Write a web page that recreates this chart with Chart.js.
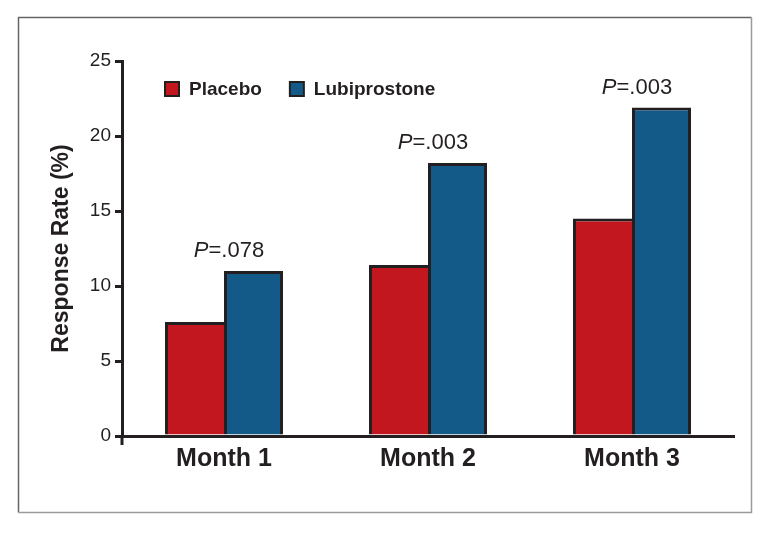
<!DOCTYPE html>
<html lang="en">
<head>
  <meta charset="UTF-8">
  <title>Response Rate by Month</title>
  <script src="https://cdn.jsdelivr.net/npm/chart.js"></script>
  <style>
    html, body { margin: 0; padding: 0; background: #fff; }
    #wrap { width: 774px; height: 534px; }
  </style>
</head>
<body>
<div id="wrap"><canvas id="responseChart" width="774" height="534"></canvas></div>

<script>
const months = ['Month 1', 'Month 2', 'Month 3'];
const placebo = [7.6, 11.4, 14.5];
const lubiprostone = [11.0, 18.2, 21.9];
const pValues = ['.078', '.003', '.003'];
const yTicks = [0, 5, 10, 15, 20, 25];

const INK = '#231f20';
const RED = '#c3171f';
const BLUE = '#135a89';
const FONT = "'Liberation Sans', Arial, sans-serif";

// grey box around the whole figure
const framePlugin = {
  id: 'frame',
  beforeDraw(chart) {
    const ctx = chart.ctx;
    ctx.save();
    ctx.fillStyle = '#fff';
    ctx.fillRect(0, 0, chart.width, chart.height);
    ctx.lineWidth = 1.5;
    ctx.strokeStyle = '#666';
    ctx.beginPath();
    ctx.moveTo(18.5, 512.5); ctx.lineTo(18.5, 17.5); ctx.lineTo(751.5, 17.5);
    ctx.stroke();
    ctx.strokeStyle = '#9a9a9a';
    ctx.beginPath();
    ctx.moveTo(751.5, 17.5); ctx.lineTo(751.5, 512.5); ctx.lineTo(18.5, 512.5);
    ctx.stroke();
    ctx.restore();
  }
};

// legend inside the plot, P values above each pair, y axis stub below x axis
const extrasPlugin = {
  id: 'extras',
  afterDraw(chart) {
    const ctx = chart.ctx;
    const area = chart.chartArea;
    const x = chart.scales.x, y = chart.scales.y;
    ctx.save();

    ctx.strokeStyle = INK;
    ctx.lineWidth = 3;
    ctx.beginPath();
    ctx.moveTo(area.left, area.bottom);
    ctx.lineTo(area.left, area.bottom + 9);
    ctx.stroke();

    // legend
    let lx = area.left + 43;
    const ly = area.top + 28;
    ctx.font = 'bold 19px ' + FONT;
    ctx.textBaseline = 'middle';
    ctx.textAlign = 'left';
    chart.data.datasets.forEach(ds => {
      ctx.fillStyle = ds.backgroundColor;
      ctx.fillRect(lx, ly - 7, 14, 14);
      ctx.strokeStyle = INK;
      ctx.lineWidth = 2;
      ctx.strokeRect(lx, ly - 7, 14, 14);
      ctx.fillStyle = INK;
      ctx.fillText(ds.label, lx + 24, ly + 1);
      lx += 24 + ctx.measureText(ds.label).width + 28;
    });

    // P values
    ctx.textBaseline = 'alphabetic';
    pValues.forEach((p, i) => {
      const cx = x.getPixelForValue(i) + 5;
      const cy = y.getPixelForValue(lubiprostone[i]) - 14;
      ctx.font = 'italic 22px ' + FONT;
      const w1 = ctx.measureText('P').width;
      ctx.font = '22px ' + FONT;
      const w2 = ctx.measureText('=' + p).width;
      let sx = cx - (w1 + w2) / 2;
      ctx.fillStyle = INK;
      ctx.font = 'italic 22px ' + FONT;
      ctx.fillText('P', sx, cy);
      ctx.font = '22px ' + FONT;
      ctx.fillText('=' + p, sx + w1, cy);
    });

    ctx.restore();
  }
};

new Chart(document.getElementById('responseChart'), {
  type: 'bar',
  data: {
    labels: months,
    datasets: [
      { label: 'Placebo', data: placebo, backgroundColor: RED, borderColor: INK,
        borderWidth: { top: 3, left: 3, bottom: 0, right: 0 }, borderSkipped: false, inflateAmount: 0 },
      { label: 'Lubiprostone', data: lubiprostone, backgroundColor: BLUE, borderColor: INK,
        borderWidth: { top: 3, left: 3, bottom: 0, right: 3 }, borderSkipped: false, inflateAmount: 0 }
    ]
  },
  options: {
    responsive: false,
    animation: false,
    // 612px wide, 375px tall plot area so bar edges land on whole pixels
    layout: { padding: { left: 0, right: 40, top: 61, bottom: 38 } },
    datasets: { bar: { categoryPercentage: 118 / 204, barPercentage: 1.0 } },
    plugins: {
      legend: { display: false },
      tooltip: { enabled: false }
    },
    scales: {
      x: {
        offset: true,
        afterFit: s => { s.height = 60; },
        grid: { display: false, drawTicks: false },
        border: { display: true, color: INK, width: 3 },
        ticks: { color: INK, padding: 8, font: { family: FONT, size: 25, weight: 'bold' } }
      },
      y: {
        min: 0,
        max: 25,
        afterFit: s => { s.width = 122; },
        afterBuildTicks: s => { s.ticks = yTicks.map(v => ({ value: v })); },
        grid: { display: true, drawOnChartArea: false, drawTicks: true, tickLength: 7, tickWidth: 3, lineWidth: 3, tickColor: INK, color: INK },
        border: { display: true, color: INK, width: 3 },
        ticks: { color: INK, padding: 4, font: { family: FONT, size: 19 } },
        title: {
          display: true,
          text: 'Response Rate (%)',
          color: INK,
          padding: { top: 48, bottom: 0 },
          font: { family: FONT, size: 23, weight: 'bold' }
        }
      }
    }
  },
  plugins: [framePlugin, extrasPlugin]
});
</script>
</body>
</html>
